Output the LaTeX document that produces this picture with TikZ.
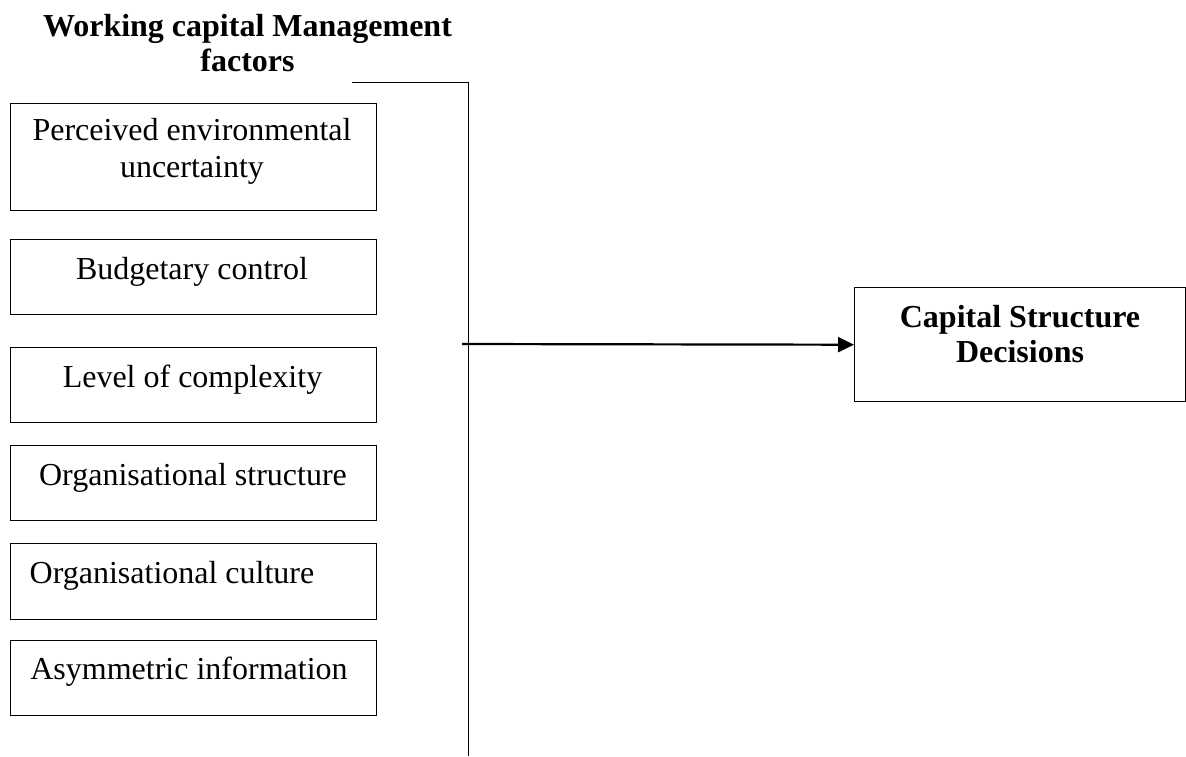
\documentclass[tikz,border=0pt]{standalone}
\usepackage{fontspec}
\setmainfont{Liberation Serif}
\usetikzlibrary{arrows.meta}
\begin{document}
\begin{tikzpicture}[x=1pt,y=-1pt,
  factorbox/.style={draw=black,line width=1.4pt,minimum width=366pt,inner sep=0pt,anchor=north west},
  boxtext/.style={anchor=base,inner sep=0pt,font=\fontsize{32}{37}\selectfont,align=center},
  headtext/.style={anchor=base,inner sep=0pt,font=\fontsize{32}{35}\selectfont\bfseries,align=center},
  bracket/.style={line width=1pt},
  mainarrow/.style={line width=2.2pt,-{Triangle[length=16pt,width=15pt]}}]
\useasboundingbox (0,0) rectangle (1186,756);
% title (base anchor = baseline of last line)
\node[headtext] (title) at (247.5,71) {Working capital Management\\factors};
% factor boxes
\node[factorbox,minimum height=107pt] (b1) at (10,103) {};
\node[factorbox,minimum height=75pt] (b2) at (10,239) {};
\node[factorbox,minimum height=75pt] (b3) at (10,347) {};
\node[factorbox,minimum height=75pt] (b4) at (10,445) {};
\node[factorbox,minimum height=76pt] (b5) at (10,543) {};
\node[factorbox,minimum height=75pt] (b6) at (10,640) {};
\node[boxtext] (t1) at (192,177) {Perceived environmental\\uncertainty};
\node[boxtext] (t2) at (192,279) {Budgetary control};
\node[boxtext] (t3) at (192.5,387) {Level of complexity};
\node[boxtext] (t4) at (193,485) {Organisational structure};
\node[boxtext] (t5) at (172,583) {Organisational culture};
\node[boxtext] (t6) at (189,679) {Asymmetric information};
% outcome box
\node[draw=black,line width=1.4pt,minimum width=331pt,minimum height=114pt,inner sep=0pt,anchor=north west] (cs) at (854,287) {};
\node[headtext] (cst) at (1020,362) {Capital Structure\\Decisions};
% bracket and arrow
\coordinate (tl) at (352,82);
\coordinate (tr) at (468,82);
\coordinate (bt) at (468,756);
\coordinate (j) at (462,344);
\draw[bracket] (tl) -- (tr) -- (bt);
\draw[mainarrow] (j) -- (cs.west);
\end{tikzpicture}
\end{document}
